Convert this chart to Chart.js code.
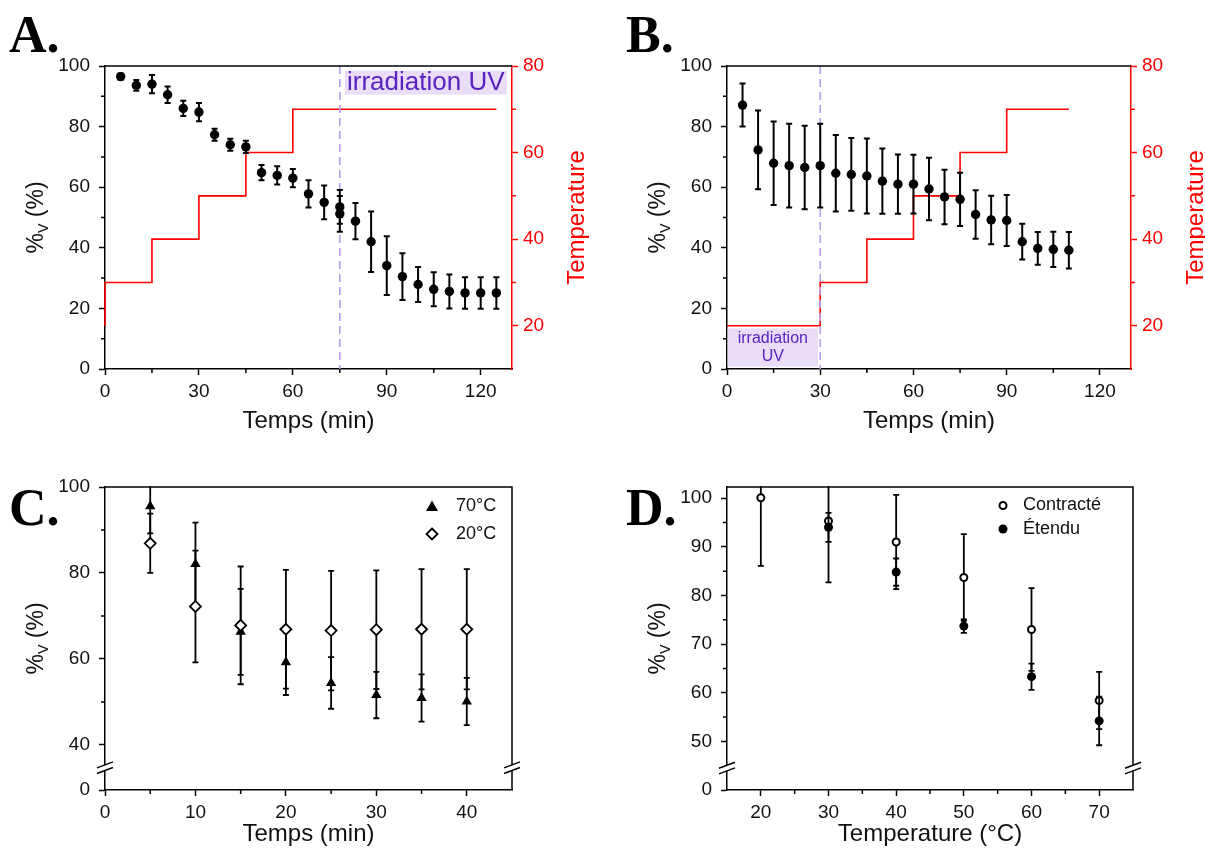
<!DOCTYPE html>
<html>
<head>
<meta charset="utf-8">
<script src="https://cdn.jsdelivr.net/npm/chart.js@4.4.1/dist/chart.umd.min.js"></script>
<style>
  html, body { margin: 0; padding: 0; background: #fff; }
  #page { position: relative; width: 1205px; height: 857px; overflow: hidden; }
  canvas { position: absolute; }
  .tag { position: absolute; font: bold 52px "Liberation Serif", "DejaVu Serif", serif; line-height: 1; color: #000; }
</style>
</head>
<body>
<div id="page">
  <canvas id="cA" width="600" height="445" style="left:0;top:0"></canvas>
  <canvas id="cB" width="590" height="445" style="left:615px;top:0"></canvas>
  <canvas id="cC" width="600" height="417" style="left:0;top:440px"></canvas>
  <canvas id="cD" width="590" height="417" style="left:615px;top:440px"></canvas>
  <div class="tag" style="left:9px;top:9px">A.</div>
  <div class="tag" style="left:626px;top:9px">B.</div>
  <div class="tag" style="left:9px;top:482px">C.</div>
  <div class="tag" style="left:626px;top:482px">D.</div>
</div>
<script>
// A: heating steps, UV from 75 min
const timeA = [5, 10, 15, 20, 25, 30, 35, 40, 45, 50, 55, 60, 65, 70, 75, 75, 80, 85, 90, 95, 100, 105, 110, 115, 120, 125]
const volA = [96.5, 93.6, 94, 90.5, 86, 84.8, 77.3, 74, 73.3, 64.8, 63.9, 63, 57.8, 55, 53.5, 51.2, 48.8, 42, 34.1, 30.5, 27.9, 26.3, 25.6, 25.1, 25.1, 25.1]
const errA = [1, 1.8, 3, 2.7, 2.5, 3, 2, 2, 2, 2.5, 3, 3, 4.5, 5.6, 5.6, 5.9, 6, 10, 9.7, 7.7, 5.8, 5.6, 5.6, 5.2, 5.2, 5.2]
const tempTimeA = [0, 0, 15, 30, 45, 60, 125]
const tempA = [20, 30, 40, 50, 60, 70, 70]

// B: UV first (0-30 min), then heating
const timeB = [5, 10, 15, 20, 25, 30, 35, 40, 45, 50, 55, 60, 65, 70, 75, 80, 85, 90, 95, 100, 105, 110]
const volB = [87.1, 72.3, 67.9, 67.1, 66.5, 67.1, 64.6, 64.2, 63.7, 62, 61, 61, 59.4, 56.8, 56, 51, 49.2, 49, 42, 39.8, 39.5, 39.2]
const errB = [7.1, 13, 13.8, 13.8, 13.8, 13.8, 12.6, 12, 12.4, 10.8, 9.8, 9.7, 10.3, 9, 8.8, 8, 8, 8.4, 5.9, 5.4, 5.8, 6]
const tempTimeB = [0, 30, 45, 60, 75, 90, 110]
const tempB = [20, 30, 40, 50, 60, 70, 70]

// C: 70°C vs 20°C
const timeC = [5, 10, 15, 20, 25, 30, 35, 40]
const vol70 = [95.5, 82.1, 66.3, 59.2, 54.4, 51.6, 50.9, 50.1]
const err70 = [6.3, 9.6, 10, 7.6, 6, 5.4, 5.5, 5.5]
const vol20 = [86.9, 72.2, 67.8, 66.9, 66.6, 66.8, 66.9, 66.9]
const err20 = [6.9, 13, 13.7, 13.8, 13.9, 13.8, 14, 14]

// D: contracté / étendu vs temperature
const tempD = [20, 30, 40, 50, 60, 70]
const volContracte = [100.1, 95.3, 91, 83.7, 73, 58.4]
const errContracte = [14, 12.6, 9.7, 8.9, 8.5, 5.9]
const volEtendu = [null, 94, 84.8, 73.7, 63.3, 54.2]
const errEtendu = [0, 3, 2.8, 1.4, 2.7, 5]

// ticks
const timeTicksAB = [0, 30, 60, 90, 120]
const timeMinorAB = [15, 45, 75, 105]
const volTicksAB = [0, 20, 40, 60, 80, 100]
const volMinorAB = [10, 30, 50, 70, 90]
const tempTicksAB = [20, 40, 60, 80]
const tempMinorAB = [30, 50, 70]
const timeTicksC = [0, 10, 20, 30, 40]
const timeMinorC = [5, 15, 25, 35]
const volTicksC = [40, 60, 80, 100]
const volMinorC = [50, 70, 90]
const tempTicksD = [20, 30, 40, 50, 60, 70]
const tempMinorD = [25, 35, 45, 55, 65]
const volTicksD = [50, 60, 70, 80, 90, 100]
const volMinorD = [55, 65, 75, 85, 95]

const FONT = '"Liberation Sans", Arial, sans-serif'
const INK = "#111"
const RED = "#ff0000"
const UV_TEXT = "#5a22c0"
const UV_FILL = "#e8dcf7"
const UV_LINE = "#b89ef0"

const pts = (xs, ys) => xs.map((x, i) => ({ x, y: ys[i] }))

function axis(o) {
  const col = o.color || "#000"
  return {
    type: "linear", position: o.pos, min: o.min, max: o.max,
    border: { display: true, color: col, width: 1.5 },
    grid: { display: true, drawOnChartArea: false, drawTicks: true, tickLength: 6, tickWidth: 1.5, color: col },
    ticks: {
      color: col === "#000" ? INK : col, font: { family: FONT, size: 19 }, padding: o.pad,
      autoSkip: false, maxRotation: 0, minRotation: 0,
      callback: v => (o.floor !== undefined && v === o.floor) ? "0" : String(v)
    },
    afterBuildTicks: s => {
      const vals = (o.floor !== undefined ? [o.floor] : []).concat(o.ticks)
      s.ticks = vals.map(v => ({ value: v }))
    },
    afterFit: s => { if (o.pos === "bottom") s.height = o.size; else s.width = o.size }
  }
}

function base(pad, scales) {
  return {
    responsive: false, animation: false, events: [],
    layout: { padding: { top: pad.top, right: pad.right, left: 0, bottom: 0 } },
    plugins: { legend: { display: false }, tooltip: { enabled: false } },
    scales
  }
}

function drawText(ctx, cx, cy, pieces, size, color, rotate) {
  ctx.save()
  ctx.translate(cx, cy)
  if (rotate) ctx.rotate(-Math.PI / 2)
  ctx.fillStyle = color
  ctx.textBaseline = "middle"
  ctx.textAlign = "left"
  let total = 0
  pieces.forEach(p => {
    ctx.font = `${p.sub ? size * 0.62 : size}px ${FONT}`
    p.w = ctx.measureText(p.t).width
    total += p.w
  })
  let x = -total / 2
  pieces.forEach(p => {
    ctx.font = `${p.sub ? size * 0.62 : size}px ${FONT}`
    ctx.fillText(p.t, x, p.sub ? size * 0.32 : 0)
    x += p.w
  })
  ctx.restore()
}

const VOL_TITLE = [{ t: "%" }, { t: "V", sub: true }, { t: " (%)" }]

function drawErrors(chart, meta, ds) {
  const ctx = chart.ctx, a = chart.chartArea
  const ys = chart.scales[meta.yAxisID]
  ctx.save()
  ctx.beginPath()
  ctx.rect(a.left, a.top - 1, a.right - a.left, a.bottom - a.top + 1)
  ctx.clip()
  ctx.strokeStyle = "#000"
  ctx.lineWidth = ds.errWidth || 1.8
  meta.data.forEach((el, i) => {
    const v = ds.data[i].y
    if (v === null || !ds.errors[i]) return
    const y1 = ys.getPixelForValue(v + ds.errors[i])
    const y2 = ys.getPixelForValue(v - ds.errors[i])
    const x = el.x, c = 3
    ctx.beginPath()
    ctx.moveTo(x, y1); ctx.lineTo(x, y2)
    ctx.moveTo(x - c, y1); ctx.lineTo(x + c, y1)
    ctx.moveTo(x - c, y2); ctx.lineTo(x + c, y2)
    ctx.stroke()
  })
  ctx.restore()
}

function drawBreak(ctx, x, y) {
  const w = 8, h = 3, g = 2.8
  ctx.save()
  ctx.fillStyle = "#fff"
  ctx.beginPath()
  ctx.moveTo(x - w, y + h + g); ctx.lineTo(x + w, y - h + g)
  ctx.lineTo(x + w, y - h - g); ctx.lineTo(x - w, y + h - g)
  ctx.closePath(); ctx.fill()
  ctx.strokeStyle = "#000"; ctx.lineWidth = 1.5
  ctx.beginPath()
  ctx.moveTo(x - w, y + h + g); ctx.lineTo(x + w, y - h + g)
  ctx.moveTo(x - w, y + h - g); ctx.lineTo(x + w, y - h - g)
  ctx.stroke()
  ctx.restore()
}

function marker(ctx, kind, x, y) {
  ctx.save()
  ctx.fillStyle = "#000"; ctx.strokeStyle = "#000"; ctx.lineWidth = 1.8
  ctx.beginPath()
  if (kind === "triangle") {
    ctx.moveTo(x, y - 6); ctx.lineTo(x + 6, y + 4.5); ctx.lineTo(x - 6, y + 4.5); ctx.closePath(); ctx.fill()
  } else if (kind === "diamond") {
    ctx.moveTo(x, y - 5.5); ctx.lineTo(x + 5.5, y); ctx.lineTo(x, y + 5.5); ctx.lineTo(x - 5.5, y); ctx.closePath()
    ctx.fillStyle = "#fff"; ctx.fill(); ctx.stroke()
  } else if (kind === "open") {
    ctx.arc(x, y, 3.5, 0, Math.PI * 2); ctx.fillStyle = "#fff"; ctx.fill(); ctx.lineWidth = 2; ctx.stroke()
  } else {
    ctx.arc(x, y, 4.5, 0, Math.PI * 2); ctx.fill()
  }
  ctx.restore()
}

function decor(cfg) {
  return {
    id: "decor",
    beforeDatasetsDraw(chart) {
      const b = cfg.uvBox
      if (!b) return
      const ctx = chart.ctx, xs = chart.scales.x, ys = chart.scales.y
      const x0 = xs.getPixelForValue(b.x0), x1 = xs.getPixelForValue(b.x1)
      const y0 = ys.getPixelForValue(b.y1), y1 = ys.getPixelForValue(b.y0)
      ctx.save()
      ctx.fillStyle = UV_FILL
      ctx.fillRect(x0, y0, x1 - x0, y1 - y0)
      ctx.restore()
      const cx = (x0 + x1) / 2, cy = (y0 + y1) / 2
      const lh = b.size * 1.15
      b.lines.forEach((t, i) => {
        drawText(ctx, cx, cy + (i - (b.lines.length - 1) / 2) * lh, [{ t }], b.size, UV_TEXT, false)
      })
    },
    beforeDatasetDraw(chart, args) {
      const ds = chart.data.datasets[args.index]
      if (ds.errors) drawErrors(chart, args.meta, ds)
    },
    afterDatasetDraw(chart, args) {
      if (cfg.uvLine === undefined || args.index !== cfg.lineAfter) return
      const ctx = chart.ctx, a = chart.chartArea
      const x = chart.scales.x.getPixelForValue(cfg.uvLine)
      ctx.save()
      ctx.strokeStyle = UV_LINE; ctx.lineWidth = 1.6; ctx.setLineDash([8, 5])
      ctx.beginPath(); ctx.moveTo(x, a.top); ctx.lineTo(x, a.bottom); ctx.stroke()
      ctx.restore()
    },
    afterDraw(chart) {
      const ctx = chart.ctx, a = chart.chartArea
      // frame
      ctx.save()
      ctx.strokeStyle = "#000"; ctx.lineWidth = 1.5
      ctx.beginPath()
      ctx.moveTo(a.left, a.top); ctx.lineTo(a.right, a.top)
      if (cfg.box) { ctx.lineTo(a.right, a.bottom) }
      ctx.stroke()
      ctx.restore()
      // minor ticks
      cfg.minor.forEach(m => {
        const s = chart.scales[m.axis]
        ctx.save()
        ctx.strokeStyle = m.color || "#000"; ctx.lineWidth = 1.5
        ctx.beginPath()
        m.values.forEach(v => {
          const p = s.getPixelForValue(v)
          if (s.isHorizontal()) { ctx.moveTo(p, a.bottom); ctx.lineTo(p, a.bottom + 4) }
          else if (s.position === "left") { ctx.moveTo(a.left, p); ctx.lineTo(a.left - 4, p) }
          else { ctx.moveTo(a.right, p); ctx.lineTo(a.right + 4, p) }
        })
        ctx.stroke()
        ctx.restore()
      })
      // axis breaks
      if (cfg.breakAt !== undefined) {
        const py = chart.scales.y.getPixelForValue(cfg.breakAt)
        drawBreak(ctx, a.left, py)
        drawBreak(ctx, a.right, py)
      }
      // titles
      const t = cfg.titles
      drawText(ctx, (a.left + a.right) / 2, a.bottom + t.xOff, [{ t: t.x }], 24, INK, false)
      drawText(ctx, a.left - 68, (a.top + a.bottom) / 2, VOL_TITLE, 23, INK, true)
      if (t.y2) drawText(ctx, a.right + 65, (a.top + a.bottom) / 2, [{ t: t.y2 }], 24, RED, true)
      // legend
      if (cfg.legend) {
        const L = cfg.legend
        L.items.forEach((it, i) => {
          const mx = a.right - L.dx, my = a.top + L.dy + i * L.gap
          marker(ctx, it.kind, mx, my)
          ctx.save()
          ctx.fillStyle = INK; ctx.font = `18px ${FONT}`
          ctx.textBaseline = "middle"; ctx.textAlign = "left"
          ctx.fillText(it.label, mx + L.textGap, my)
          ctx.restore()
        })
      }
    }
  }
}

// ---- A
new Chart(document.getElementById("cA"), {
  type: "line",
  data: {
    datasets: [
      { data: pts(timeA, volA), errors: errA, errWidth: 2, showLine: false, pointRadius: 4.7,
        pointBackgroundColor: "#000", pointBorderColor: "#000", pointBorderWidth: 0, yAxisID: "y" },
      { data: pts(tempTimeA, tempA), yAxisID: "y2", stepped: "before", borderColor: RED, borderWidth: 1.6,
        pointRadius: 0, fill: false, clip: 4 }
    ]
  },
  options: base({ top: 66, right: 0 }, {
    x: axis({ pos: "bottom", min: 0, max: 130, ticks: timeTicksAB, size: 76, pad: 5 }),
    y: axis({ pos: "left", min: 0, max: 100, ticks: volTicksAB, size: 105, pad: 9 }),
    y2: axis({ pos: "right", min: 10, max: 80, ticks: tempTicksAB, size: 88, pad: 5, color: RED })
  }),
  plugins: [decor({
    minor: [{ axis: "x", values: timeMinorAB }, { axis: "y", values: volMinorAB }, { axis: "y2", values: tempMinorAB, color: RED }],
    uvLine: 75, lineAfter: 1,
    uvBox: { x0: 76.6, x1: 128.3, y0: 90.6, y1: 98.4, lines: ["irradiation UV"], size: 26 },
    titles: { x: "Temps (min)", xOff: 52, y2: "Temperature" }
  })]
})

// ---- B
new Chart(document.getElementById("cB"), {
  type: "line",
  data: {
    datasets: [
      { data: pts(timeB, volB), errors: errB, errWidth: 2, showLine: false, pointRadius: 4.7,
        pointBackgroundColor: "#000", pointBorderColor: "#000", pointBorderWidth: 0, yAxisID: "y" },
      { data: pts(tempTimeB, tempB), yAxisID: "y2", stepped: "before", borderColor: RED, borderWidth: 1.6,
        pointRadius: 0, fill: false, clip: 4 }
    ]
  },
  options: base({ top: 66, right: 0 }, {
    x: axis({ pos: "bottom", min: 0, max: 130, ticks: timeTicksAB, size: 76, pad: 5 }),
    y: axis({ pos: "left", min: 0, max: 100, ticks: volTicksAB, size: 112, pad: 9 }),
    y2: axis({ pos: "right", min: 10, max: 80, ticks: tempTicksAB, size: 74, pad: 5, color: RED })
  }),
  plugins: [decor({
    minor: [{ axis: "x", values: timeMinorAB }, { axis: "y", values: volMinorAB }, { axis: "y2", values: tempMinorAB, color: RED }],
    uvLine: 30, lineAfter: 1,
    uvBox: { x0: 0.2, x1: 29.3, y0: 0.8, y1: 13.4, lines: ["irradiation", "UV"], size: 16 },
    titles: { x: "Temps (min)", xOff: 52, y2: "Temperature" }
  })]
})

// ---- C
new Chart(document.getElementById("cC"), {
  type: "line",
  data: {
    datasets: [
      { data: pts(timeC, vol20), errors: err20, showLine: false, pointStyle: "rectRot", pointRadius: 5.5,
        pointBackgroundColor: "#fff", pointBorderColor: "#000", pointBorderWidth: 1.8 },
      { data: pts(timeC, vol70), errors: err70, showLine: false, pointStyle: "triangle", pointRadius: 6,
        pointBackgroundColor: "#000", pointBorderColor: "#000", pointBorderWidth: 0 }
    ]
  },
  options: base({ top: 47, right: 88 }, {
    x: axis({ pos: "bottom", min: 0, max: 45, ticks: timeTicksC, size: 67, pad: 5 }),
    y: axis({ pos: "left", min: 29.5, max: 100, ticks: volTicksC, floor: 29.5, size: 105, pad: 9 })
  }),
  plugins: [decor({
    box: true, breakAt: 34.7,
    minor: [{ axis: "x", values: timeMinorC }, { axis: "y", values: volMinorC }],
    titles: { x: "Temps (min)", xOff: 44 },
    legend: { dx: 80, dy: 19.5, gap: 27.5, textGap: 24, items: [{ kind: "triangle", label: "70°C" }, { kind: "diamond", label: "20°C" }] }
  })]
})

// ---- D
new Chart(document.getElementById("cD"), {
  type: "line",
  data: {
    datasets: [
      { data: pts(tempD, volEtendu), errors: errEtendu, showLine: false, pointStyle: "circle", pointRadius: 4.5,
        pointBackgroundColor: "#000", pointBorderColor: "#000", pointBorderWidth: 0 },
      { data: pts(tempD, volContracte), errors: errContracte, showLine: false, pointStyle: "circle", pointRadius: 3.5,
        pointBackgroundColor: "#fff", pointBorderColor: "#000", pointBorderWidth: 2 }
    ]
  },
  options: base({ top: 47, right: 72 }, {
    x: axis({ pos: "bottom", min: 15, max: 75, ticks: tempTicksD, size: 67, pad: 5 }),
    y: axis({ pos: "left", min: 40, max: 102.3, ticks: volTicksD, floor: 40, size: 112, pad: 9 })
  }),
  plugins: [decor({
    box: true, breakAt: 44.5,
    minor: [{ axis: "x", values: tempMinorD }, { axis: "y", values: volMinorD }],
    titles: { x: "Temperature (°C)", xOff: 44 },
    legend: { dx: 130, dy: 18.5, gap: 23.5, textGap: 20, items: [{ kind: "open", label: "Contracté" }, { kind: "filled", label: "Étendu" }] }
  })]
})
</script>
</body>
</html>
